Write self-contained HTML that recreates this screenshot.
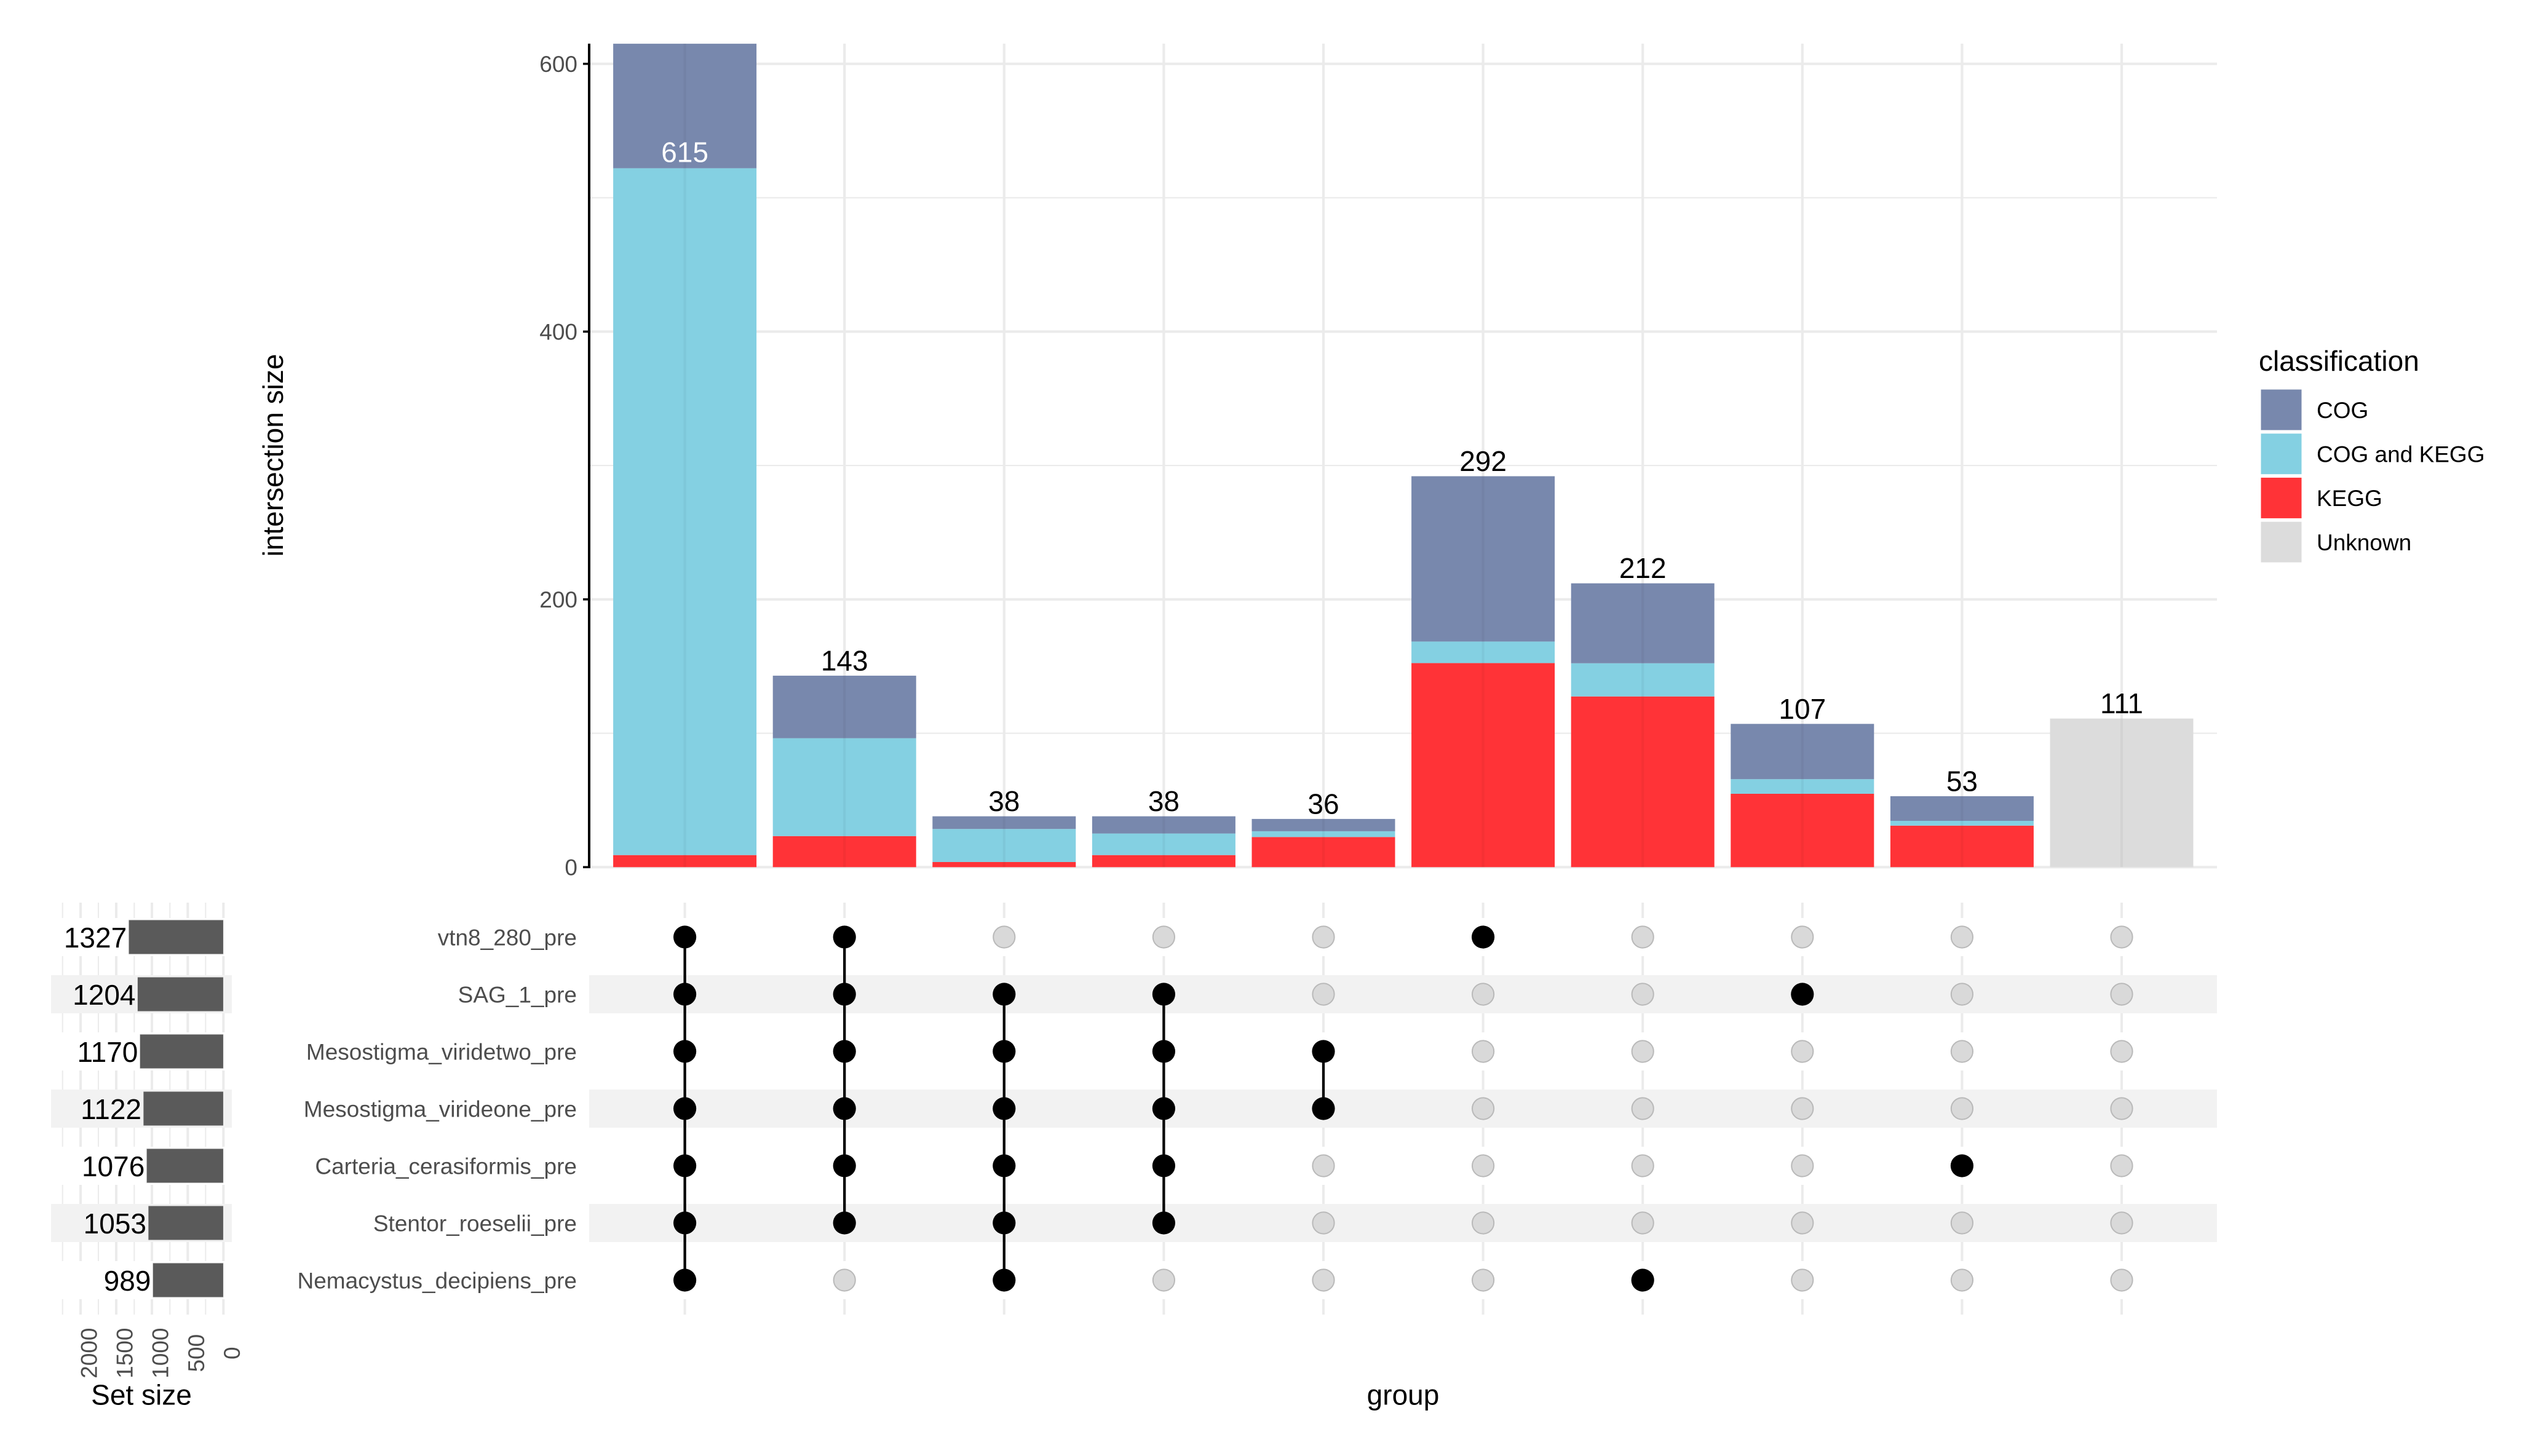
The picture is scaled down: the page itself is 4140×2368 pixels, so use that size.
<!DOCTYPE html>
<html>
<head>
<meta charset="utf-8">
<style>
html,body{margin:0;padding:0;background:#fff;}
svg{display:block;}
svg text{font-family:"Liberation Sans",Arial,sans-serif;}
</style>
</head>
<body>
<svg width="4140" height="2368" viewBox="0 0 4140 2368" xmlns="http://www.w3.org/2000/svg">
<rect x="0" y="0" width="4140" height="2368" fill="#ffffff"/>

<!-- ===== TOP BAR CHART ===== -->
<!-- minor horizontal gridlines -->
<g stroke="#ebebeb" stroke-width="2.1">
<line x1="958" y1="1192.6" x2="3605" y2="1192.6"/>
<line x1="958" y1="757.1" x2="3605" y2="757.1"/>
<line x1="958" y1="321.6" x2="3605" y2="321.6"/>
</g>
<!-- major horizontal gridlines -->
<g stroke="#ebebeb" stroke-width="4.2">
<line x1="958" y1="1410.3" x2="3605" y2="1410.3"/>
<line x1="958" y1="974.8" x2="3605" y2="974.8"/>
<line x1="958" y1="539.3" x2="3605" y2="539.3"/>
<line x1="958" y1="103.8" x2="3605" y2="103.8"/>
</g>
<!-- vertical gridlines -->
<g stroke="#ebebeb" stroke-width="4.2">
<line x1="1113.6" y1="71" x2="1113.6" y2="1410.3"/>
<line x1="1373.2" y1="71" x2="1373.2" y2="1410.3"/>
<line x1="1632.8" y1="71" x2="1632.8" y2="1410.3"/>
<line x1="1892.4" y1="71" x2="1892.4" y2="1410.3"/>
<line x1="2152.0" y1="71" x2="2152.0" y2="1410.3"/>
<line x1="2411.6" y1="71" x2="2411.6" y2="1410.3"/>
<line x1="2671.2" y1="71" x2="2671.2" y2="1410.3"/>
<line x1="2930.8" y1="71" x2="2930.8" y2="1410.3"/>
<line x1="3190.4" y1="71" x2="3190.4" y2="1410.3"/>
<line x1="3450.0" y1="71" x2="3450.0" y2="1410.3"/>
</g>

<!-- bars: COG #7888ad, COG and KEGG #84d0e2, KEGG #ff3337, Unknown #dcdcdc -->
<!-- bar 1 -->
<rect x="997.1" y="1390.7" width="233" height="19.6" fill="#ff3337"/>
<rect x="997.1" y="273.6" width="233" height="1117.1" fill="#84d0e2"/>
<rect x="997.1" y="71.1" width="233" height="202.5" fill="#7888ad"/>
<!-- bar 2 -->
<rect x="1256.7" y="1359.8" width="233" height="50.5" fill="#ff3337"/>
<rect x="1256.7" y="1200.6" width="233" height="159.2" fill="#84d0e2"/>
<rect x="1256.7" y="1098.9" width="233" height="101.7" fill="#7888ad"/>
<!-- bar 3 -->
<rect x="1516.3" y="1402.0" width="233" height="8.3" fill="#ff3337"/>
<rect x="1516.3" y="1348.2" width="233" height="53.8" fill="#84d0e2"/>
<rect x="1516.3" y="1327.6" width="233" height="20.6" fill="#7888ad"/>
<!-- bar 4 -->
<rect x="1775.9" y="1390.7" width="233" height="19.6" fill="#ff3337"/>
<rect x="1775.9" y="1355.6" width="233" height="35.1" fill="#84d0e2"/>
<rect x="1775.9" y="1327.6" width="233" height="28.0" fill="#7888ad"/>
<!-- bar 5 -->
<rect x="2035.5" y="1361.3" width="233" height="49.0" fill="#ff3337"/>
<rect x="2035.5" y="1351.9" width="233" height="9.4" fill="#84d0e2"/>
<rect x="2035.5" y="1331.9" width="233" height="20.0" fill="#7888ad"/>
<!-- bar 6 -->
<rect x="2295.1" y="1078.4" width="233" height="331.9" fill="#ff3337"/>
<rect x="2295.1" y="1043.4" width="233" height="35.0" fill="#84d0e2"/>
<rect x="2295.1" y="774.5" width="233" height="268.9" fill="#7888ad"/>
<!-- bar 7 -->
<rect x="2554.7" y="1132.7" width="233" height="277.6" fill="#ff3337"/>
<rect x="2554.7" y="1078.7" width="233" height="54.0" fill="#84d0e2"/>
<rect x="2554.7" y="948.7" width="233" height="130.0" fill="#7888ad"/>
<!-- bar 8 -->
<rect x="2814.3" y="1291.0" width="233" height="119.3" fill="#ff3337"/>
<rect x="2814.3" y="1267.2" width="233" height="23.8" fill="#84d0e2"/>
<rect x="2814.3" y="1177.3" width="233" height="89.9" fill="#7888ad"/>
<!-- bar 9 -->
<rect x="3073.9" y="1342.8" width="233" height="67.5" fill="#ff3337"/>
<rect x="3073.9" y="1335.0" width="233" height="7.8" fill="#84d0e2"/>
<rect x="3073.9" y="1294.9" width="233" height="40.1" fill="#7888ad"/>
<!-- bar 10 -->
<rect x="3333.5" y="1168.6" width="233" height="241.7" fill="#dcdcdc"/>

<!-- faint gridline show-through on bars -->
<g stroke="#000" stroke-opacity="0.04" stroke-width="4.2">
<line x1="1113.6" y1="71" x2="1113.6" y2="1410.3"/>
<line x1="1373.2" y1="1098.9" x2="1373.2" y2="1410.3"/>
<line x1="1632.8" y1="1327.6" x2="1632.8" y2="1410.3"/>
<line x1="1892.4" y1="1327.6" x2="1892.4" y2="1410.3"/>
<line x1="2152.0" y1="1331.9" x2="2152.0" y2="1410.3"/>
<line x1="2411.6" y1="774.5" x2="2411.6" y2="1410.3"/>
<line x1="2671.2" y1="948.7" x2="2671.2" y2="1410.3"/>
<line x1="2930.8" y1="1177.3" x2="2930.8" y2="1410.3"/>
<line x1="3190.4" y1="1294.9" x2="3190.4" y2="1410.3"/>
<line x1="3450.0" y1="1168.6" x2="3450.0" y2="1410.3"/>
</g>

<!-- bar labels -->
<g font-size="46" text-anchor="middle" fill="#000">
<text x="1113.6" y="263.5" fill="#ffffff">615</text>
<text x="1373.2" y="1090.4">143</text>
<text x="1632.8" y="1319.1">38</text>
<text x="1892.4" y="1319.1">38</text>
<text x="2152.0" y="1323.4">36</text>
<text x="2411.6" y="766.0">292</text>
<text x="2671.2" y="940.2">212</text>
<text x="2930.8" y="1168.8">107</text>
<text x="3190.4" y="1286.4">53</text>
<text x="3450.0" y="1160.1">111</text>
</g>

<!-- y axis -->
<line x1="958" y1="71" x2="958" y2="1412" stroke="#000" stroke-width="4"/>
<g stroke="#000" stroke-width="3.5">
<line x1="948" y1="1410.3" x2="958" y2="1410.3"/>
<line x1="948" y1="974.8" x2="958" y2="974.8"/>
<line x1="948" y1="539.3" x2="958" y2="539.3"/>
<line x1="948" y1="103.8" x2="958" y2="103.8"/>
</g>
<g font-size="37" text-anchor="end" fill="#4d4d4d">
<text x="939" y="1423.6">0</text>
<text x="939" y="988.1">200</text>
<text x="939" y="552.6">400</text>
<text x="939" y="117.1">600</text>
</g>
<text transform="translate(460,740.5) rotate(-90)" font-size="46" text-anchor="middle" fill="#000">intersection size</text>

<!-- legend -->
<text x="3673" y="603" font-size="46" fill="#000">classification</text>
<rect x="3676.5" y="633.5" width="66" height="66" fill="#7888ad"/>
<rect x="3676.5" y="705.2" width="66" height="66" fill="#84d0e2"/>
<rect x="3676.5" y="776.9" width="66" height="66" fill="#ff3337"/>
<rect x="3676.5" y="848.6" width="66" height="66" fill="#dcdcdc"/>
<g font-size="37" fill="#000">
<text x="3767" y="679.8">COG</text>
<text x="3767" y="751.5">COG and KEGG</text>
<text x="3767" y="823.2">KEGG</text>
<text x="3767" y="894.9">Unknown</text>
</g>

<!-- ===== MATRIX ===== -->
<g stroke="#ebebeb" stroke-width="4">
<line x1="1113.6" y1="1468" x2="1113.6" y2="2138"/>
<line x1="1373.2" y1="1468" x2="1373.2" y2="2138"/>
<line x1="1632.8" y1="1468" x2="1632.8" y2="2138"/>
<line x1="1892.4" y1="1468" x2="1892.4" y2="2138"/>
<line x1="2152.0" y1="1468" x2="2152.0" y2="2138"/>
<line x1="2411.6" y1="1468" x2="2411.6" y2="2138"/>
<line x1="2671.2" y1="1468" x2="2671.2" y2="2138"/>
<line x1="2930.8" y1="1468" x2="2930.8" y2="2138"/>
<line x1="3190.4" y1="1468" x2="3190.4" y2="2138"/>
<line x1="3450.0" y1="1468" x2="3450.0" y2="2138"/>
</g>
<!-- stripes -->
<rect x="958" y="1493" width="2647" height="62" fill="#ffffff"/>
<rect x="958" y="1586" width="2647" height="62" fill="#f2f2f2"/>
<rect x="958" y="1679" width="2647" height="62" fill="#ffffff"/>
<rect x="958" y="1772" width="2647" height="62" fill="#f2f2f2"/>
<rect x="958" y="1865" width="2647" height="62" fill="#ffffff"/>
<rect x="958" y="1958" width="2647" height="62" fill="#f2f2f2"/>
<rect x="958" y="2051" width="2647" height="62" fill="#ffffff"/>

<!-- connecting lines -->
<g stroke="#000" stroke-width="4.3">
<line x1="1113.6" y1="1524" x2="1113.6" y2="2082"/>
<line x1="1373.2" y1="1524" x2="1373.2" y2="1989"/>
<line x1="1632.8" y1="1617" x2="1632.8" y2="2082"/>
<line x1="1892.4" y1="1617" x2="1892.4" y2="1989"/>
<line x1="2152.0" y1="1710" x2="2152.0" y2="1803"/>
</g>

<!-- inactive dots -->
<g fill="#d9d9d9" stroke="#b9b9b9" stroke-width="2">
<circle cx="1373.2" cy="2082" r="17.6"/>
<circle cx="1632.8" cy="1524" r="17.6"/>
<circle cx="1892.4" cy="1524" r="17.6"/>
<circle cx="1892.4" cy="2082" r="17.6"/>
<circle cx="2152.0" cy="1524" r="17.6"/>
<circle cx="2152.0" cy="1617" r="17.6"/>
<circle cx="2152.0" cy="1896" r="17.6"/>
<circle cx="2152.0" cy="1989" r="17.6"/>
<circle cx="2152.0" cy="2082" r="17.6"/>
<circle cx="2411.6" cy="1617" r="17.6"/>
<circle cx="2411.6" cy="1710" r="17.6"/>
<circle cx="2411.6" cy="1803" r="17.6"/>
<circle cx="2411.6" cy="1896" r="17.6"/>
<circle cx="2411.6" cy="1989" r="17.6"/>
<circle cx="2411.6" cy="2082" r="17.6"/>
<circle cx="2671.2" cy="1524" r="17.6"/>
<circle cx="2671.2" cy="1617" r="17.6"/>
<circle cx="2671.2" cy="1710" r="17.6"/>
<circle cx="2671.2" cy="1803" r="17.6"/>
<circle cx="2671.2" cy="1896" r="17.6"/>
<circle cx="2671.2" cy="1989" r="17.6"/>
<circle cx="2930.8" cy="1524" r="17.6"/>
<circle cx="2930.8" cy="1710" r="17.6"/>
<circle cx="2930.8" cy="1803" r="17.6"/>
<circle cx="2930.8" cy="1896" r="17.6"/>
<circle cx="2930.8" cy="1989" r="17.6"/>
<circle cx="2930.8" cy="2082" r="17.6"/>
<circle cx="3190.4" cy="1524" r="17.6"/>
<circle cx="3190.4" cy="1617" r="17.6"/>
<circle cx="3190.4" cy="1710" r="17.6"/>
<circle cx="3190.4" cy="1803" r="17.6"/>
<circle cx="3190.4" cy="1989" r="17.6"/>
<circle cx="3190.4" cy="2082" r="17.6"/>
<circle cx="3450.0" cy="1524" r="17.6"/>
<circle cx="3450.0" cy="1617" r="17.6"/>
<circle cx="3450.0" cy="1710" r="17.6"/>
<circle cx="3450.0" cy="1803" r="17.6"/>
<circle cx="3450.0" cy="1896" r="17.6"/>
<circle cx="3450.0" cy="1989" r="17.6"/>
<circle cx="3450.0" cy="2082" r="17.6"/>
</g>

<!-- active dots -->
<g fill="#000">
<circle cx="1113.6" cy="1524" r="18.6"/>
<circle cx="1113.6" cy="1617" r="18.6"/>
<circle cx="1113.6" cy="1710" r="18.6"/>
<circle cx="1113.6" cy="1803" r="18.6"/>
<circle cx="1113.6" cy="1896" r="18.6"/>
<circle cx="1113.6" cy="1989" r="18.6"/>
<circle cx="1113.6" cy="2082" r="18.6"/>
<circle cx="1373.2" cy="1524" r="18.6"/>
<circle cx="1373.2" cy="1617" r="18.6"/>
<circle cx="1373.2" cy="1710" r="18.6"/>
<circle cx="1373.2" cy="1803" r="18.6"/>
<circle cx="1373.2" cy="1896" r="18.6"/>
<circle cx="1373.2" cy="1989" r="18.6"/>
<circle cx="1632.8" cy="1617" r="18.6"/>
<circle cx="1632.8" cy="1710" r="18.6"/>
<circle cx="1632.8" cy="1803" r="18.6"/>
<circle cx="1632.8" cy="1896" r="18.6"/>
<circle cx="1632.8" cy="1989" r="18.6"/>
<circle cx="1632.8" cy="2082" r="18.6"/>
<circle cx="1892.4" cy="1617" r="18.6"/>
<circle cx="1892.4" cy="1710" r="18.6"/>
<circle cx="1892.4" cy="1803" r="18.6"/>
<circle cx="1892.4" cy="1896" r="18.6"/>
<circle cx="1892.4" cy="1989" r="18.6"/>
<circle cx="2152.0" cy="1710" r="18.6"/>
<circle cx="2152.0" cy="1803" r="18.6"/>
<circle cx="2411.6" cy="1524" r="18.6"/>
<circle cx="2671.2" cy="2082" r="18.6"/>
<circle cx="2930.8" cy="1617" r="18.6"/>
<circle cx="3190.4" cy="1896" r="18.6"/>
</g>

<!-- set labels -->
<g font-size="37" text-anchor="end" fill="#4d4d4d">
<text x="938" y="1537.3">vtn8_280_pre</text>
<text x="938" y="1630.3">SAG_1_pre</text>
<text x="938" y="1723.3">Mesostigma_viridetwo_pre</text>
<text x="938" y="1816.3">Mesostigma_virideone_pre</text>
<text x="938" y="1909.3">Carteria_cerasiformis_pre</text>
<text x="938" y="2002.3">Stentor_roeselii_pre</text>
<text x="938" y="2095.3">Nemacystus_decipiens_pre</text>
</g>
<text x="2281.5" y="2284.7" font-size="46" text-anchor="middle" fill="#000">group</text>

<!-- ===== SET SIZE PANEL ===== -->
<g stroke="#ebebeb" stroke-width="2">
<line x1="101.7" y1="1468" x2="101.7" y2="2138"/>
<line x1="160" y1="1468" x2="160" y2="2138"/>
<line x1="218.3" y1="1468" x2="218.3" y2="2138"/>
<line x1="276.3" y1="1468" x2="276.3" y2="2138"/>
<line x1="334.3" y1="1468" x2="334.3" y2="2138"/>
</g>
<g stroke="#ebebeb" stroke-width="4">
<line x1="131" y1="1468" x2="131" y2="2138"/>
<line x1="189" y1="1468" x2="189" y2="2138"/>
<line x1="247" y1="1468" x2="247" y2="2138"/>
<line x1="305.3" y1="1468" x2="305.3" y2="2138"/>
<line x1="363.3" y1="1468" x2="363.3" y2="2138"/>
</g>
<rect x="83" y="1493" width="294" height="62" fill="#ffffff"/>
<rect x="83" y="1586" width="294" height="62" fill="#f2f2f2"/>
<rect x="83" y="1679" width="294" height="62" fill="#ffffff"/>
<rect x="83" y="1772" width="294" height="62" fill="#f2f2f2"/>
<rect x="83" y="1865" width="294" height="62" fill="#ffffff"/>
<rect x="83" y="1958" width="294" height="62" fill="#f2f2f2"/>
<rect x="83" y="2051" width="294" height="62" fill="#ffffff"/>

<g fill="#5a5a5a" stroke="#e6e6e6" stroke-width="0.8">
<rect x="209.2" y="1496.1" width="154.1" height="55.8"/>
<rect x="223.5" y="1589.1" width="139.8" height="55.8"/>
<rect x="227.4" y="1682.1" width="135.9" height="55.8"/>
<rect x="233.0" y="1775.1" width="130.3" height="55.8"/>
<rect x="238.3" y="1868.1" width="125.0" height="55.8"/>
<rect x="241.0" y="1961.1" width="122.3" height="55.8"/>
<rect x="248.4" y="2054.1" width="114.9" height="55.8"/>
</g>
<g font-size="46" text-anchor="end" fill="#000">
<text x="206.2" y="1541">1327</text>
<text x="220.5" y="1634">1204</text>
<text x="224.4" y="1727">1170</text>
<text x="230.0" y="1820">1122</text>
<text x="235.3" y="1913">1076</text>
<text x="238.0" y="2006">1053</text>
<text x="245.4" y="2099">989</text>
</g>
<g font-size="37" text-anchor="middle" fill="#4d4d4d">
<text transform="translate(157.5,2200.7) rotate(-90)">2000</text>
<text transform="translate(215.5,2200.7) rotate(-90)">1500</text>
<text transform="translate(273.5,2200.7) rotate(-90)">1000</text>
<text transform="translate(331.8,2200.7) rotate(-90)">500</text>
<text transform="translate(389.8,2200.7) rotate(-90)">0</text>
</g>
<text x="230" y="2284.7" font-size="46" text-anchor="middle" fill="#000">Set size</text>
</svg>
</body>
</html>
